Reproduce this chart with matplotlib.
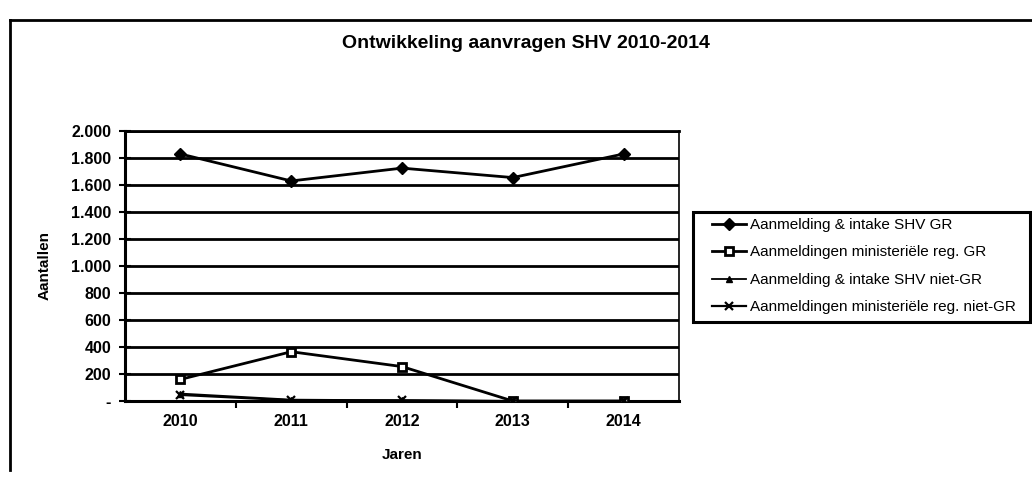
import matplotlib
matplotlib.use("Agg")
import matplotlib.pyplot as plt
from matplotlib.lines import Line2D
from matplotlib.patches import Rectangle

plt.rcParams['font.family'] = ['Liberation Sans', 'DejaVu Sans']

categories = ['2010', '2011', '2012', '2013', '2014']
intake_gr = [1830, 1630, 1725, 1655, 1830]
minreg_gr = [160, 365, 255, 0, 0]
intake_niet_gr = [55, 10, 5, 0, 0]
minreg_niet_gr = [45, 5, 5, 0, 0]
labels = ['Aanmelding & intake SHV GR',
          'Aanmeldingen ministeriële reg. GR',
          'Aanmelding & intake SHV niet-GR',
          'Aanmeldingen ministeriële reg. niet-GR']
yticks = list(range(0, 2001, 200))

W, H = 1032, 480
fig = plt.figure(figsize=(W / 100, H / 100), dpi=100)
ax = fig.add_axes([125 / W, 1 - 401 / H, (679 - 125) / W, (401 - 131) / H])

x = list(range(len(categories)))
ax.plot(x, intake_gr, color='black', lw=2, marker='D', ms=6, mfc='black', mec='black', label=labels[0], zorder=5)
ax.plot(x, minreg_gr, color='black', lw=2, marker='s', ms=6, mfc='white', mec='black', mew=2, label=labels[1], zorder=5)
ax.plot(x, intake_niet_gr, color='black', lw=1.3, marker='^', ms=4, mfc='black', mec='black', label=labels[2], zorder=5)
ax.plot(x, minreg_niet_gr, color='black', lw=1.6, marker='x', ms=6, mew=1.6, label=labels[3], zorder=5)

ax.set_xlim(-0.5, len(categories) - 0.5)
ax.set_ylim(0, 2000)
ax.set_yticks(yticks)
ax.set_yticklabels([('-' if v == 0 else f'{v:,}'.replace(',', '.')) for v in yticks],
                   fontsize=11.5, fontweight='bold')
ax.set_xticks(x)
ax.set_xticklabels(categories, fontsize=11.5, fontweight='bold')
ax.set_xticks([i + 0.5 for i in x[:-1]], minor=True)
ax.tick_params(axis='x', which='major', length=0, pad=9)
ax.tick_params(axis='x', which='minor', length=5, width=1.5, direction='out', color='black')
ax.tick_params(axis='y', which='major', length=8, width=1.5, direction='inout', pad=6)

ax.grid(axis='y', color='black', lw=2)
ax.set_axisbelow(True)
for side in ['left', 'bottom']:
    ax.spines[side].set_linewidth(2.2)
ax.spines['right'].set_linewidth(1.2)
ax.spines['top'].set_linewidth(2)

ax.set_ylabel('Aantallen', fontsize=11, fontweight='bold', labelpad=14)
ax.set_xlabel('Jaren', fontsize=11, fontweight='bold', labelpad=14)
fig.text(526 / W, 1 - 43 / H, 'Ontwikkeling aanvragen SHV 2010-2014',
         ha='center', va='center', fontsize=14, fontweight='bold')

# legend box
fig.add_artist(Rectangle((693 / W, 1 - 322 / H), (1030 - 693) / W, (322 - 212) / H,
                         transform=fig.transFigure, fill=False, edgecolor='black', lw=2.2))
leg = fig.legend(loc='upper left', bbox_to_anchor=(712 / W, 1 - 218 / H), frameon=False,
                 fontsize=11, borderpad=0, borderaxespad=0, handlelength=2.2,
                 handletextpad=0.3, labelspacing=0.88, handleheight=0.6)

# outer border
fig.add_artist(Line2D([10 / W, 10 / W], [1 - 20 / H, 1 - 470 / H], transform=fig.transFigure, color='black', lw=2))
fig.add_artist(Line2D([10 / W, 1.0], [1 - 20 / H, 1 - 20 / H], transform=fig.transFigure, color='black', lw=2))

fig.savefig('out.png', dpi=100)
